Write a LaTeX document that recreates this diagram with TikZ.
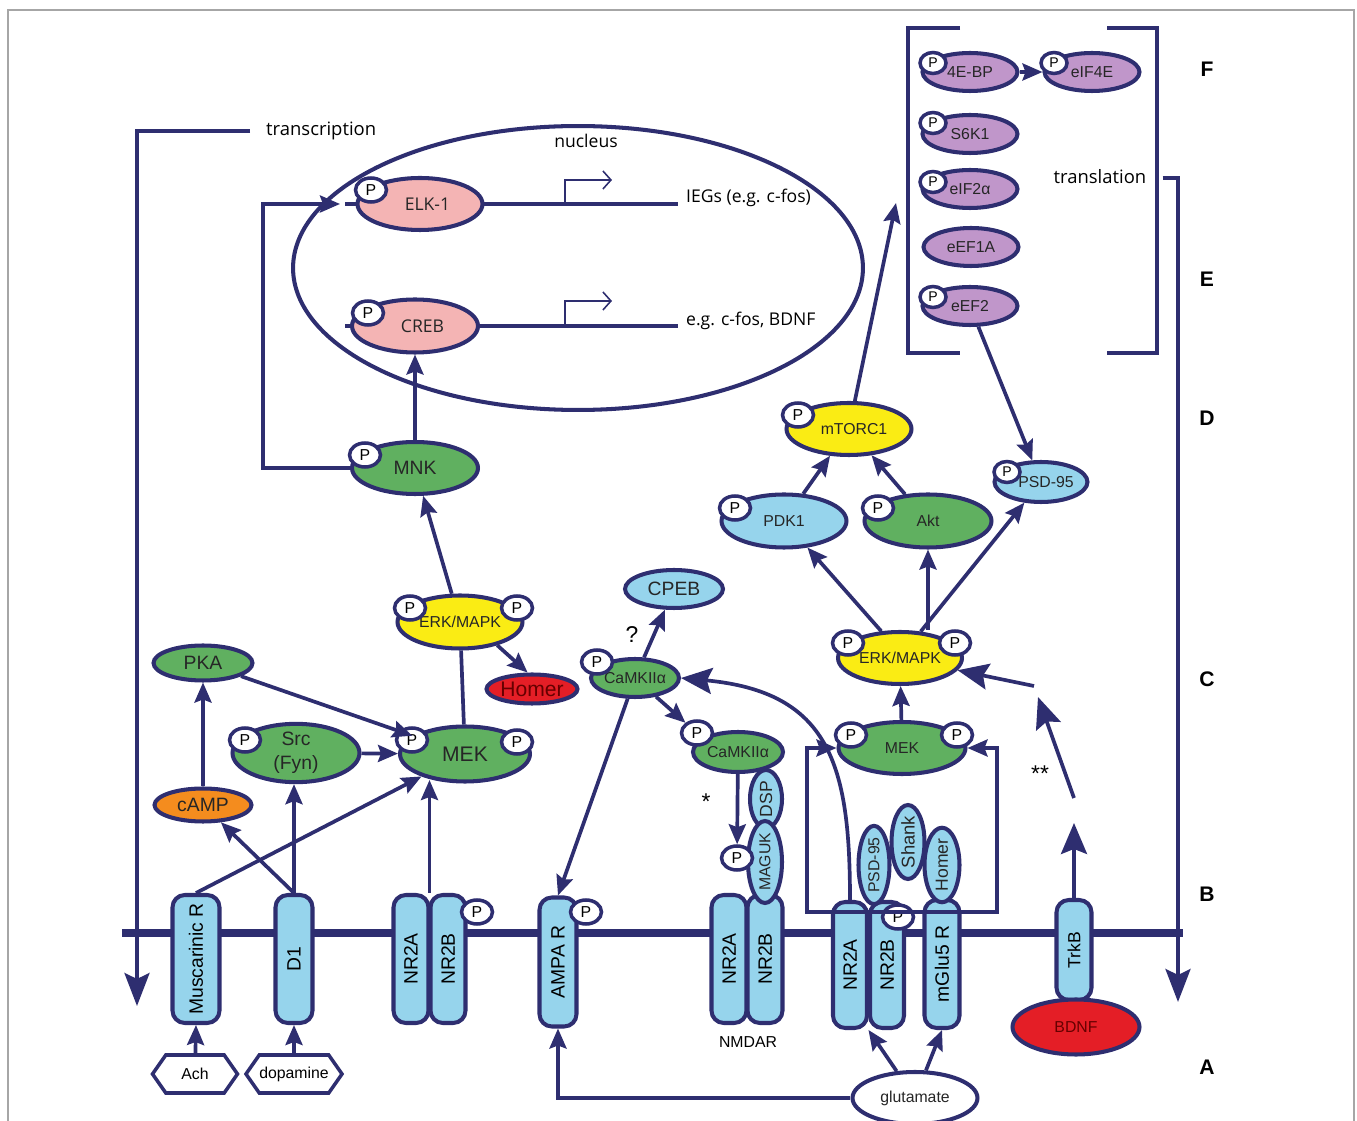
\documentclass[tikz,border=0pt]{standalone}
\usepackage{fontspec}
\setmainfont{Liberation Sans}
\setsansfont{Liberation Sans}
\newfontfamily\myriad{Open Sans}
\usetikzlibrary{shapes.geometric,shapes.symbols,arrows.meta,calc}

\definecolor{navy}{RGB}{46,46,112}
\definecolor{lblue}{RGB}{150,212,236}
\definecolor{kgreen}{RGB}{96,176,96}
\definecolor{kyellow}{RGB}{250,236,20}
\definecolor{kpink}{RGB}{244,180,180}
\definecolor{kpurple}{RGB}{192,150,202}
\definecolor{kred}{RGB}{228,30,38}
\definecolor{korange}{RGB}{244,140,30}

\newcommand{\fsz}[1]{\fontsize{#1}{#1}\selectfont}

\tikzset{
  prot/.style={ellipse, draw=navy, line width=2.3pt, inner sep=0pt, text=black!85, font=\fsz{9}},
  bluep/.style={prot, fill=lblue},
  greenp/.style={prot, fill=kgreen},
  yellowp/.style={prot, fill=kyellow},
  pinkp/.style={prot, fill=kpink, font=\myriad\fsz{10}},
  purplep/.style={prot, fill=kpurple, minimum width=1.9cm, minimum height=0.76cm},
  redp/.style={prot, fill=kred, text=red!40!black},
  phos/.style={ellipse, draw=navy, fill=white, line width=2pt, inner sep=0pt,
    minimum width=0.62cm, minimum height=0.48cm, font=\fsz{9}},
  rec/.style={rectangle, rounded corners=7pt, draw=navy, fill=lblue, line width=2.3pt,
    rotate=90, minimum width=2.56cm, minimum height=0.7cm, inner sep=0pt, font=\fsz{11}},
  vprot/.style={bluep, rotate=90, font=\fsz{10}},
  lig/.style={signal, signal to=west and east, signal pointer angle=110, draw=navy,
    line width=2pt, fill=white, inner sep=0pt, minimum height=0.76cm, font=\fsz{9}},
  link/.style={draw=navy, line width=2.1pt},
  arr/.style={link, -{Stealth[length=0.4cm,width=0.34cm,inset=0.06cm]}},
  barr/.style={link, -{Stealth[length=0.62cm,width=0.52cm,inset=0.1cm]}},
  bigarr/.style={draw=navy, line width=2.3pt, -{Stealth[length=0.66cm,width=0.5cm,inset=0.12cm]}},
  tss/.style={draw=navy, line width=0.9pt, -{Straight Barb[length=0.16cm,width=0.36cm]}},
  lett/.style={font=\bfseries\fsz{12}},
  sign/.style={font=\fsz{13}}
}

\begin{document}
\begin{tikzpicture}[x=0.02cm,y=-0.02cm]
\useasboundingbox (0,0) rectangle (1357,1121);
%frame
\draw[gray!70, line width=0.8pt] (8,1121) -- (8,10) -- (1354,10) -- (1354,1121);

%side letters
\node[lett] (lF) at (1207,69) {F};
\node[lett] (lE) at (1207,279) {E};
\node[lett] (lD) at (1207,418) {D};
\node[lett] (lC) at (1207,679) {C};
\node[lett] (lB) at (1207,894) {B};
\node[lett] (lA) at (1207,1067) {A};

%membrane
\draw[navy, line width=5pt] (122,933) -- (1183,933);

%transcription and translation
\node[anchor=west, font=\myriad\fsz{10.5}] (transc) at (260,131) {transcription};
\draw[bigarr] (250,131) -- (137,131) -- (137,1006);
\node[font=\myriad\fsz{10.5}] (transl) at (1100,177) {translation};
\draw[bigarr] (transl.east) ++(10,1) -- (1178,178) -- (1178,1002);
\draw[navy, line width=2.3pt] (960,28) -- (908,28) -- (908,353) -- (960,353);
\draw[navy, line width=2.3pt] (1107,28) -- (1157,28) -- (1157,353) -- (1107,353);
\coordinate (brk) at (896,203);

%nucleus
\node[draw=navy, line width=2.3pt, ellipse, minimum width=11.4cm, minimum height=5.68cm] (nucleus) at (578,268) {};
\node[font=\myriad\fsz{10}] (nuclab) at (586,141) {nucleus};
\node[anchor=west, font=\myriad\fsz{10}] (iegs) at (680,198) {IEGs (e.g. c-fos)};
\node[anchor=west, font=\myriad\fsz{10}] (cfos) at (680,321) {e.g. c-fos, BDNF};
\draw[link] (345,204) -- (678,204);
\draw[link] (345,326) -- (678,326);
\draw[tss] (565,204) -- (565,180) -- (612,180);
\draw[tss] (565,326) -- (565,301) -- (612,301);
\node[pinkp, minimum width=2.5cm, minimum height=1.04cm] (elk) at (420,204) {\hspace{3mm}ELK-1};
\node[pinkp, minimum width=2.52cm, minimum height=1.06cm] (creb) at (415,326) {\hspace{3mm}CREB};

%left cascade
\node[greenp, minimum width=2.52cm, minimum height=1.04cm, font=\fsz{11}] (mnk) at (415,468) {MNK};
\node[yellowp, minimum width=2.5cm, minimum height=1.06cm] (erkl) at (460,622) {\raisebox{-1.2mm}{ERK/MAPK}};
\node[redp, minimum width=1.82cm, minimum height=0.58cm, font=\fsz{12}] (homer) at (532,689) {Homer};
\node[greenp, minimum width=1.98cm, minimum height=0.7cm, font=\fsz{11}] (pka) at (203,663) {PKA};
\node[greenp, minimum width=2.54cm, minimum height=1.06cm, align=center, font=\fontsize{11}{13.5}\selectfont] (src) at (296,753) {Src\\(Fyn)};
\node[greenp, minimum width=2.6cm, minimum height=1.1cm, font=\fsz{12}] (mekl) at (465,754) {MEK};
\node[prot, fill=korange, minimum width=1.94cm, minimum height=0.66cm, font=\fsz{11}] (camp) at (203,805) {cAMP};

%middle cascade
\node[bluep, minimum width=1.96cm, minimum height=0.76cm, font=\fsz{11}] (cpeb) at (674,589) {CPEB};
\node[greenp, minimum width=1.76cm, minimum height=0.76cm] (camk) at (635,678) {CaMKIIα};
\node[greenp, minimum width=1.8cm, minimum height=0.8cm] (camk2) at (738,752) {CaMKIIα};
\node[sign] (quest) at (632,635) {?};
\node[sign] (star) at (706,802) {*};

%right cascade
\node[greenp, minimum width=2.54cm, minimum height=1.04cm] (mekr) at (902,748) {MEK};
\node[yellowp, minimum width=2.48cm, minimum height=1.04cm] (erkr) at (900,658) {\raisebox{-1.4mm}{ERK/MAPK}};
\node[bluep, minimum width=2.5cm, minimum height=1.06cm] (pdk1) at (784,521) {PDK1};
\node[greenp, minimum width=2.54cm, minimum height=1.06cm] (akt) at (928,521) {Akt};
\node[bluep, minimum width=1.86cm, minimum height=0.8cm] (psdt) at (1041,482) {\hspace{2mm}PSD-95};
\node[yellowp, minimum width=2.5cm, minimum height=1.04cm] (mtor) at (849,429) {\hspace{2mm}mTORC1};
\node[sign] (dstar) at (1040,774) {**};

%translation factors
\node[purplep] (ebp) at (970,72) {4E-BP};
\node[purplep] (eif4e) at (1092,72) {eIF4E};
\node[purplep] (s6k) at (970,134) {S6K1};
\node[purplep] (eif2) at (970,189) {eIF2α};
\node[purplep] (eef1) at (971,247) {eEF1A};
\node[purplep] (eef2) at (970,306) {eEF2};

%receptors
\node[rec, minimum height=0.94cm] (musc) at (196,959) {Muscarinic R};
\node[rec, minimum height=0.74cm] (d1) at (294,959) {D1};
\node[rec] (nra) at (411,959) {NR2A};
\node[rec] (nrb) at (448,959) {NR2B};
\node[rec, minimum width=2.58cm, minimum height=0.74cm] (ampa) at (558,962) {AMPA R};
\node[rec] (nma) at (729,959) {NR2A};
\node[rec] (nmb) at (765,959) {NR2B};
\node[font=\fsz{9}] (nmdar) at (748,1042) {NMDAR};
\node[rec, minimum width=2.52cm, minimum height=0.68cm] (nrar) at (850,965) {NR2A};
\node[rec, minimum width=2.52cm, minimum height=0.68cm] (nrbr) at (887,965) {NR2B};
\node[rec, minimum height=0.7cm] (mglu) at (942,964) {mGlu5 R};
\node[rec, minimum width=2cm, minimum height=0.7cm, font=\fsz{10}] (trkb) at (1074,950) {TrkB};
\node[redp, minimum width=2.54cm, minimum height=1.1cm] (bdnf) at (1076,1027) {BDNF};

%scaffold
\node[vprot, minimum width=1.16cm, minimum height=0.64cm] (dsp) at (766,799) {DSP};
\node[vprot, minimum width=1.34cm, minimum height=0.68cm, font=\fsz{9}] (maguk) at (765,862) {MAGUK};
\node[vprot, minimum width=1.3cm, minimum height=0.62cm, font=\fsz{9}] (psdv) at (874,865) {PSD-95};
\node[vprot, minimum width=1.38cm, minimum height=0.66cm, font=\fsz{10.5}] (shank) at (908,842) {Shank};
\node[vprot, minimum width=1.4cm, minimum height=0.7cm] (homv) at (942,865) {Homer};

%ligands
\node[lig, minimum width=1.7cm] (ach) at (195,1074) {Ach};
\node[lig, minimum width=1.76cm] (dopa) at (294,1074) {dopamine};
\node[prot, fill=white, minimum width=2.5cm, minimum height=1.04cm] (glu) at (915,1098) {glutamate};

%phosphates
\foreach \nm/\xx/\yy in {elkP/371/190, crebP/368/313, mnkP/365/455, erklPa/410/608,
  erklPb/517/608, srcP/245/740, meklPa/412/740, meklPb/517/742, nrbP/477/912,
  ampaP/586/912, camkP/597/662, camkPb/697/733, magP/737/858, nrbrP/898/917,
  mekrPa/851/735, mekrPb/957/735, erkrPa/848/643, erkrPb/955/643, pdkP/735/508,
  aktP/878/508, mtorP/798/415}
  \node[phos] (\nm) at (\xx,\yy) {P};
\foreach \nm/\xx/\yy in {psdtP/1007/472, ebpP/933/63, eifP/1054/63, s6kP/933/123,
  eif2P/933/182, eef2P/933/297}
  \node[phos, minimum width=0.52cm, minimum height=0.42cm, font=\fsz{8}] (\nm) at (\xx,\yy) {P};

%arrows left
\draw[arr] (ach) -- (musc.west);
\draw[arr] (dopa) -- (d1.west);
\draw[arr] (d1.east) -- (camp);
\draw[arr] (d1.east) -- (d1.east |- src.south);
\draw[arr] (musc.east) -- (mekl);
\draw[arr] ($(nra.east)!.5!(nrb.east)$) -- ++(0,-113);
\draw[arr] (camp) -- (pka);
\draw[arr] (pka) -- (mekl);
\draw[arr] (src) -- (mekl);
\draw[link] (erkl) -- (mekl);
\draw[arr] (erkl.-32) -- (homer.105);
\draw[arr] (erkl) -- (mnk);
\draw[arr] (mnk) -- (creb);
\draw[arr] (mnk.west) -- (263,468) -- (263,204) -- (340,204);

%arrows middle
\draw[arr] (camk) -- (cpeb);
\draw[arr] (camk) -- (ampa.east);
\draw[arr] (camk) -- (camkPb);
\draw[arr] (camk2) -- (magP);
\draw[barr] (nrar.east) .. controls (850,765) and (830,692) .. (camk.east);
\draw[arr] (glu.west) -| (ampa.west);
\draw[arr] (glu) -- ($(nrar.west)!.5!(nrbr.west)$);
\draw[arr] (glu) -- (mglu.west);

%arrows right
\draw[link, {Stealth[length=0.4cm,width=0.34cm,inset=0.06cm]}-{Stealth[length=0.4cm,width=0.34cm,inset=0.06cm]}]
  (mekr.west) -- (807,748) -- (807,912) -- (997,912) -- (997,748) -- (mekr.east);
\draw[arr] (mekr) -- (erkr);
\draw[arr] (erkr.125) -- (pdk1);
\draw[arr] (akt |- erkr.north) -- (akt);
\draw[arr] (erkr.52) -- (psdt);
\draw[arr] (pdk1) -- (mtor);
\draw[arr] (akt) -- (mtor);
\draw[arr] (mtor) -- (brk);
\draw[arr] (eef2) -- (psdt);
\draw[arr] (ebp) -- (eif4e);
\draw[barr] (trkb.east) -- ++(0,-75);
\draw[barr] (1074,798) -- (1038,697);
\draw[barr] (1034,686) -- (erkr.-12);
\end{tikzpicture}
\end{document}
